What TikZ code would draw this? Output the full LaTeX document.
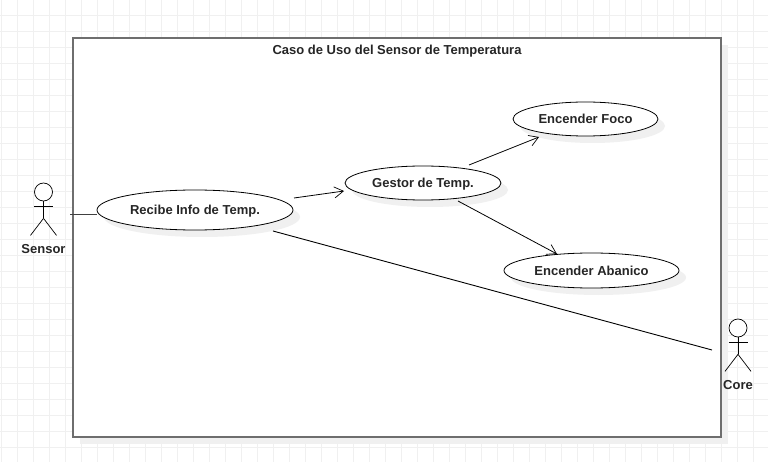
\documentclass[tikz,border=0pt]{standalone}
\usepackage{fontspec}
\setmainfont{Liberation Sans}
\usetikzlibrary{arrows.meta,shapes.geometric}
\definecolor{gridgray}{HTML}{F0F0F0}
\definecolor{shadowgray}{HTML}{F0F0F0}
\definecolor{framegray}{HTML}{6E6E6E}
\tikzset{
  usecase/.style={ellipse,draw=black,fill=white,line width=.8pt,inner sep=0pt,minimum width=#1},
  ucshadow/.style={ellipse,fill=shadowgray,inner sep=0pt,minimum width=#1},
  label text/.style={font=\fontsize{13}{15}\selectfont\bfseries,text=black!85,text height=10pt,text depth=0pt},
  assoc/.style={line width=.8pt,-{Straight Barb[length=9pt,width=11pt,line width=.7pt]}},
  link/.style={line width=.9pt},
  stick/.style={line width=.7pt},
}
\newcommand{\actorfig}[3]{%
  \node[circle,draw=black,stick,fill=white,minimum size=18pt,inner sep=0pt] (#1) at (#2,#3) {};
  \draw[stick] (#1.south) -- ++(0,17) coordinate (#1hip);
  \draw[stick] (#2-9.5,#3+14.5) -- (#2+9.5,#3+14.5);
  \draw[stick] (#1hip) -- ++(-13,17);
  \draw[stick] (#1hip) -- ++(13,17);
}
\begin{document}
\begin{tikzpicture}[x=1pt,y=-1pt]
\useasboundingbox (0,0) rectangle (768,462);
\fill[white] (0,0) rectangle (768,462);
% grid
\foreach \gx in {0,...,47}
  \draw[gridgray,line width=.8pt] (1.5+16*\gx,0) -- (1.5+16*\gx,462);
\foreach \gy in {0,...,28}
  \draw[gridgray,line width=.8pt] (0,15+16*\gy) -- (768,15+16*\gy);
% system frame
\fill[shadowgray] (80,45) rectangle (728,444);
\node[draw=framegray,fill=white,line width=1.5pt,minimum width=648pt,minimum height=399pt,inner sep=0pt] (system) at (397,237.5) {};
\node[label text] (title) at (397,50) {Caso de Uso del Sensor de Temperatura};
% use cases
\node[ucshadow=196pt,minimum height=40pt] (recibeshadow) at (202,217) {};
\node[ucshadow=156pt,minimum height=34pt] (gestorshadow) at (430,190) {};
\node[ucshadow=145pt,minimum height=34pt] (focoshadow) at (592.5,126) {};
\node[ucshadow=175pt,minimum height=35pt] (abanicoshadow) at (598.5,277.5) {};
\node[usecase=196pt,minimum height=40pt,label text] (recibe) at (195,210) {Recibe Info de Temp.};
\node[usecase=156pt,minimum height=34pt,label text] (gestor) at (423,183) {Gestor de Temp.};
\node[usecase=145pt,minimum height=34pt,label text] (foco) at (585.5,119) {Encender Foco};
\node[usecase=175pt,minimum height=35pt,label text] (abanico) at (591.5,270.5) {Encender Abanico};
% actors
\actorfig{sensor}{43.5}{192}
\actorfig{core}{738}{328}
\node[label text] (sensorlabel) at (43.5,248.5) {Sensor};
\node[label text] (corelabel) at (738,384) {Core};
% connectors
\coordinate (sensorhand) at (70,214);
\coordinate (recibein) at (97,214);
\coordinate (recibeout) at (294,198);
\coordinate (gestorin) at (344,191);
\coordinate (recibelow) at (273,231);
\coordinate (corehand) at (712,350);
\coordinate (gestorup) at (469,165);
\coordinate (focoin) at (539,137);
\coordinate (gestordown) at (458,201);
\coordinate (abanicoin) at (557,254);
\draw[link,black!75] (sensorhand) -- (recibein);
\draw[assoc] (recibeout) -- (gestorin);
\draw[assoc] (gestorup) -- (focoin);
\draw[assoc] (gestordown) -- (abanicoin);
\draw[link] (recibelow) -- (corehand);
\end{tikzpicture}
\end{document}
